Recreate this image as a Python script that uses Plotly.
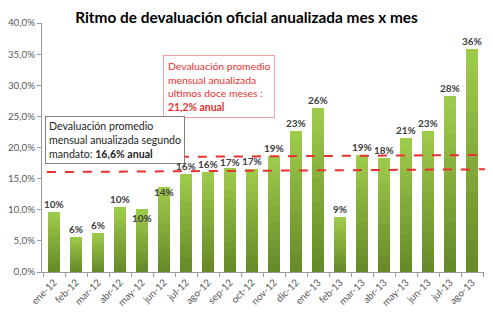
import plotly.graph_objects as go

months = ["ene-12", "feb-12", "mar-12", "abr-12", "may-12", "jun-12", "jul-12", "ago-12",
          "sep-12", "oct-12", "nov-12", "dic-12", "ene-13", "feb-13", "mar-13", "abr-13",
          "may-13", "jun-13", "jul-13", "ago-13"]
values = [9.6, 5.7, 6.2, 10.4, 10.1, 13.6, 15.7, 16.1, 16.7, 16.5, 18.6, 22.7, 26.4, 8.8,
          18.8, 18.3, 21.5, 22.6, 28.2, 35.8]
labels = ["10%", "6%", "6%", "10%", "10%", "14%", "16%", "16%", "17%", "17%", "19%", "23%",
          "26%", "9%", "19%", "18%", "21%", "23%", "28%", "36%"]
label_shift = [8, 8, 8, 8, -9, -5, 8, 8, 6, 8, 8, 8, 8, 8, 8, 8, 8, 8, 8, 8]
ytick_vals = [0, 5, 10, 15, 20, 25, 30, 35, 40]
ytick_text = ["0,0%", "5,0%", "10,0%", "15,0%", "20,0%", "25,0%", "30,0%", "35,0%", "40,0%"]

FONT = "Lato"
fig = go.Figure()

# per-bar vertical gradient: dark at bottom, light at top
N = 14
c0 = (104, 138, 40)
c1 = (158, 202, 76)
for i in range(N):
    t = i / (N - 1)
    col = "rgb(%d,%d,%d)" % tuple(round(a + (b - a) * t) for a, b in zip(c0, c1))
    fig.add_trace(go.Bar(x=months, y=[v / N for v in values], marker_color=col,
                         marker_line_width=0, showlegend=False,
                         hovertemplate="%{x}<extra></extra>"))

red = "#E8302E"
fig.add_shape(type="line", xref="paper", yref="y", x0=0.011, x1=1.002, y0=16.05, y1=16.5,
              line=dict(color=red, width=2, dash="dash"))
fig.add_shape(type="line", xref="paper", yref="y", x0=0.312, x1=1.002, y0=18.5, y1=18.8,
              line=dict(color=red, width=2, dash="dash"))

fig.add_annotation(xref="paper", yref="paper", x=0.274, y=0.871, xanchor="left", yanchor="top",
                   align="left", showarrow=False,
                   text="Devaluación promedio<br>mensual anualizada<br>ultimos doce meses :<br><b>21,2% anual</b>",
                   font=dict(family=FONT, size=10.4, color=red),
                   bordercolor="#F4A0A0", borderwidth=1, borderpad=4, bgcolor="white")
fig.add_annotation(xref="paper", yref="paper", x=0.007, y=0.627, xanchor="left", yanchor="top",
                   align="left", showarrow=False,
                   text="Devaluación promedio<br>mensual anualizada segundo<br>mandato: <b>16,6% anual</b>",
                   font=dict(family=FONT, size=10.6, color="#262626"),
                   bordercolor="#808080", borderwidth=1, borderpad=3, bgcolor="white")

for m, v, lab, s in zip(months, values, labels, label_shift):
    fig.add_annotation(x=m, y=v, text="<b>%s</b>" % lab, showarrow=False,
                       yshift=s, font=dict(family=FONT, size=10, color="#404040"))

fig.update_layout(
    width=493, height=321,
    margin=dict(l=42, r=9, t=23, b=49),
    barmode="stack", bargap=0.45,
    plot_bgcolor="white", paper_bgcolor="white",
    title=dict(text="<b>Ritmo de devaluación oficial anualizada mes x mes</b>",
               x=0.5, xanchor="center", y=0.945, yanchor="middle",
               font=dict(family=FONT, size=15.4, color="black")),
    font=dict(family=FONT, size=9.8, color="#595959"),
)
fig.update_yaxes(range=[0, 40], tickvals=ytick_vals, ticktext=ytick_text, showgrid=False,
                 showline=True, linecolor="#9A9A9A", ticks="outside", ticklen=4,
                 tickcolor="#9A9A9A", zeroline=False)
fig.update_xaxes(showline=True, linecolor="#9A9A9A", ticks="outside", ticklen=4,
                 tickcolor="#9A9A9A", tickson="boundaries", tickangle=-45, showgrid=False)

fig.write_html("out.html")
